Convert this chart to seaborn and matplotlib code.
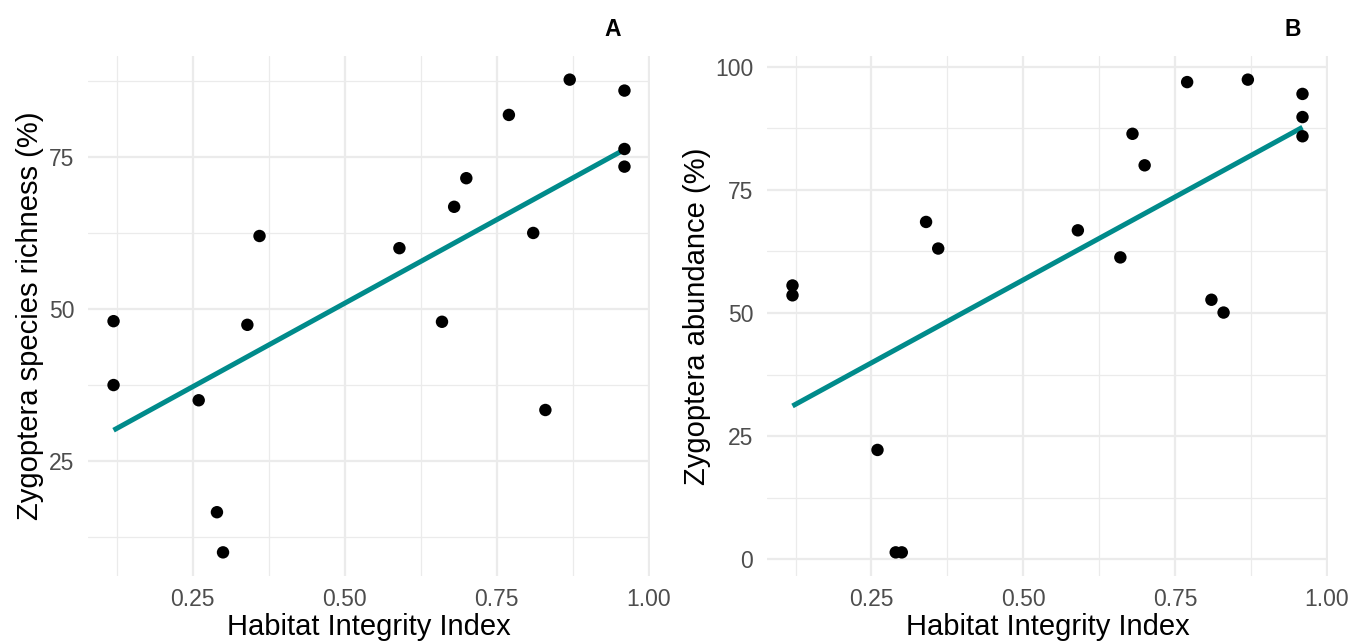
import numpy as np
import pandas as pd
import seaborn as sns
import matplotlib.pyplot as plt
from matplotlib.ticker import MultipleLocator

# Habitat Integrity Index for each site (shared by both panels)
hii = [0.12, 0.12, 0.26, 0.29, 0.30, 0.34, 0.36, 0.59, 0.66,
       0.68, 0.70, 0.77, 0.81, 0.83, 0.87, 0.96, 0.96, 0.96]

# Panel A: Zygoptera species richness (%)
richness = [48.0, 37.5, 35.0, 16.6, 10.0, 47.4, 62.0, 60.0, 47.9,
            66.8, 71.5, 81.9, 62.5, 33.4, 87.7, 85.9, 76.3, 73.4]

# Panel B: Zygoptera abundance (%)
abundance = [55.6, 53.6, 22.2, 1.4, 1.4, 68.5, 63.1, 66.8, 61.3,
             86.4, 80.0, 96.9, 52.7, 50.1, 97.4, 94.5, 89.8, 85.9]

panels = ['A', 'B']
ylabels = ['Zygoptera species richness (%)', 'Zygoptera abundance (%)']
xlabel = 'Habitat Integrity Index'

df = pd.DataFrame({'hii': hii, 'richness': richness, 'abundance': abundance})

sns.set_style('white')
plt.rcParams['font.family'] = ['Liberation Sans', 'DejaVu Sans']

fig = plt.figure(figsize=(13.68, 6.44), dpi=100)
ax_a = fig.add_axes([88 / 1368, 1 - 576 / 644, 562 / 1368, 520 / 644])
ax_b = fig.add_axes([767 / 1368, 1 - 576 / 644, 561 / 1368, 520 / 644])

line_col = '#008B8B'
grid_col = '#EBEBEB'
text_col = '#4D4D4D'

for ax, col, ylab in zip([ax_a, ax_b], ['richness', 'abundance'], ylabels):
    sns.regplot(data=df, x='hii', y=col, ax=ax, ci=None, scatter=False,
                line_kws=dict(color=line_col, lw=3.6, solid_capstyle='butt'))
    sns.scatterplot(data=df, x='hii', y=col, ax=ax, color='black', s=80,
                    edgecolor='none', zorder=3)

    # ggplot-style 5% expansion
    xr = df['hii'].max() - df['hii'].min()
    yr = df[col].max() - df[col].min()
    ax.set_xlim(df['hii'].min() - 0.05 * xr, df['hii'].max() + 0.05 * xr)
    ax.set_ylim(df[col].min() - 0.05 * yr, df[col].max() + 0.05 * yr)

    ax.xaxis.set_major_locator(MultipleLocator(0.25))
    ax.xaxis.set_minor_locator(MultipleLocator(0.125))
    ax.yaxis.set_major_locator(MultipleLocator(25))
    ax.yaxis.set_minor_locator(MultipleLocator(12.5))
    ax.xaxis.set_major_formatter(plt.FuncFormatter(lambda v, p: f'{v:.2f}'))
    ax.yaxis.set_major_formatter(plt.FuncFormatter(lambda v, p: f'{v:.0f}'))

    ax.grid(which='major', color=grid_col, lw=1.6)
    ax.grid(which='minor', color=grid_col, lw=0.9)
    ax.set_axisbelow(True)
    for s in ax.spines.values():
        s.set_visible(False)
    ax.tick_params(which='both', length=0, labelsize=16.5, labelcolor=text_col)
    ax.tick_params(axis='x', pad=9)
    ax.tick_params(axis='y', pad=10)

    ax.set_xlabel(xlabel, fontsize=21, color='black', labelpad=1)
    ax.set_ylabel(ylab, fontsize=21, color='black', labelpad=3)

fig.text(613 / 1368, 1 - 30 / 644, 'A', fontsize=16.5, fontweight='bold',
         color='black', ha='center', va='center')
fig.text(1293 / 1368, 1 - 30 / 644, 'B', fontsize=16.5, fontweight='bold',
         color='black', ha='center', va='center')

fig.savefig('out.png', dpi=100)
plt.close(fig)
